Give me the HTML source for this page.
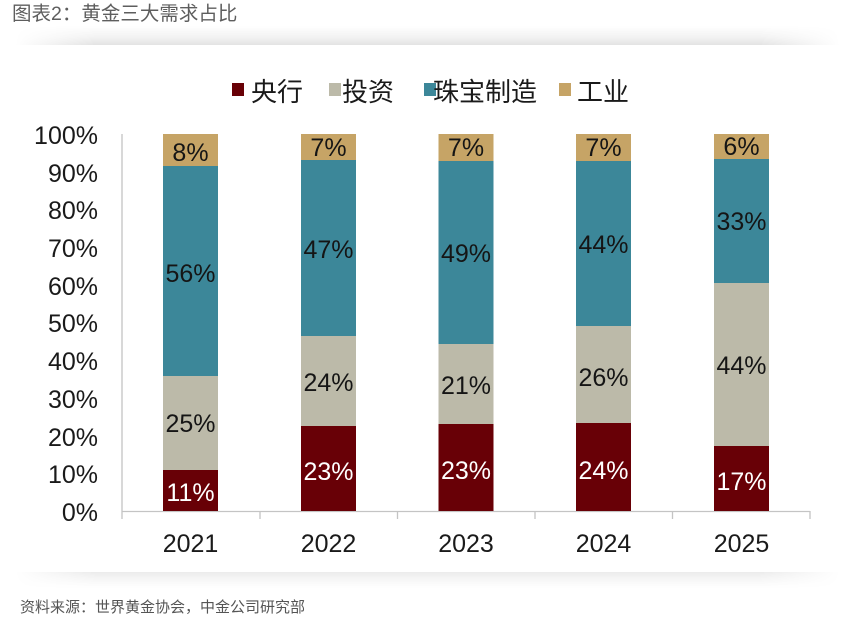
<!DOCTYPE html>
<html>
<head>
<meta charset="utf-8">
<style>
  html, body { margin:0; padding:0; background:#fff; }
  body { width:866px; height:619px; position:relative; overflow:hidden;
         font-family:"Liberation Sans","Noto Sans CJK SC",sans-serif; }
  .title { position:absolute; left:12px; top:0px; font-size:19.5px; color:#5e5e5e;
           font-family:"Liberation Sans","Noto Sans CJK SC",sans-serif; line-height:28px; }
  .shtop { position:absolute; left:15px; width:825px; top:26px; height:19px;
           background:linear-gradient(to bottom, rgba(0,0,0,0) 0%, rgba(0,0,0,0.05) 60%, rgba(0,0,0,0.11) 100%);
           -webkit-mask-image:linear-gradient(to right, transparent 0%, #000 10%, #000 90%, transparent 100%);
           mask-image:linear-gradient(to right, transparent 0%, #000 10%, #000 90%, transparent 100%); }
  .shbot { position:absolute; left:15px; width:825px; top:572px; height:16px;
           background:linear-gradient(to top, rgba(0,0,0,0) 0%, rgba(0,0,0,0.04) 60%, rgba(0,0,0,0.08) 100%);
           -webkit-mask-image:linear-gradient(to right, transparent 0%, #000 10%, #000 90%, transparent 100%);
           mask-image:linear-gradient(to right, transparent 0%, #000 10%, #000 90%, transparent 100%); }
  .src { position:absolute; left:20px; top:596px; font-size:15px; color:#555;
         font-family:"Liberation Sans","Noto Sans CJK SC",sans-serif; }
  svg { position:absolute; left:0; top:0; }
</style>
</head>
<body>
<div class="title">图表2：黄金三大需求占比</div>
<div class="shtop"></div>
<div class="shbot"></div>

<svg width="866" height="619" viewBox="0 0 866 619" xmlns="http://www.w3.org/2000/svg">
  <!-- legend -->
  <g font-family="'Liberation Sans','Noto Sans CJK SC',sans-serif" font-size="26" fill="#1a1a1a">
    <rect x="232" y="83" width="12" height="13" fill="#680006"/>
    <text x="251" y="101">央行</text>
    <rect x="329" y="83" width="12" height="13" fill="#bcbaa9"/>
    <text x="342" y="101">投资</text>
    <rect x="424" y="83" width="12" height="13" fill="#3c8799"/>
    <text x="433" y="101">珠宝制造</text>
    <rect x="559" y="83" width="12" height="13" fill="#c6a466"/>
    <text x="577" y="101">工业</text>
  </g>

  <!-- axes -->
  <g stroke="#c4c4c4" stroke-width="1.3" fill="none">
    <line x1="122" y1="134" x2="122" y2="519"/>
    <line x1="122" y1="511.5" x2="810" y2="511.5"/>
    <line x1="260" y1="511" x2="260" y2="519"/>
    <line x1="397.5" y1="511" x2="397.5" y2="519"/>
    <line x1="535" y1="511" x2="535" y2="519"/>
    <line x1="672.5" y1="511" x2="672.5" y2="519"/>
    <line x1="810" y1="511" x2="810" y2="519"/>
  </g>

  <!-- y labels -->
  <g font-family="'Liberation Sans',sans-serif" font-size="25" fill="#1a1a1a" text-anchor="end">
    <text x="98" y="144">100%</text>
    <text x="98" y="182">90%</text>
    <text x="98" y="219">80%</text>
    <text x="98" y="257">70%</text>
    <text x="98" y="295">60%</text>
    <text x="98" y="332">50%</text>
    <text x="98" y="370">40%</text>
    <text x="98" y="408">30%</text>
    <text x="98" y="446">20%</text>
    <text x="98" y="483">10%</text>
    <text x="98" y="521">0%</text>
  </g>

  <!-- bars -->
  <g>
    <!-- 2021 -->
    <rect x="163" y="470" width="55" height="41" fill="#680006"/>
    <rect x="163" y="376" width="55" height="94" fill="#bcbaa9"/>
    <rect x="163" y="166" width="55" height="210" fill="#3c8799"/>
    <rect x="163" y="134" width="55" height="32" fill="#c6a466"/>
    <!-- 2022 -->
    <rect x="301" y="426" width="55" height="85" fill="#680006"/>
    <rect x="301" y="336" width="55" height="90" fill="#bcbaa9"/>
    <rect x="301" y="160" width="55" height="176" fill="#3c8799"/>
    <rect x="301" y="134" width="55" height="26" fill="#c6a466"/>
    <!-- 2023 -->
    <rect x="438.5" y="424" width="55" height="87" fill="#680006"/>
    <rect x="438.5" y="344" width="55" height="80" fill="#bcbaa9"/>
    <rect x="438.5" y="161" width="55" height="183" fill="#3c8799"/>
    <rect x="438.5" y="134" width="55" height="27" fill="#c6a466"/>
    <!-- 2024 -->
    <rect x="576" y="423" width="55" height="88" fill="#680006"/>
    <rect x="576" y="326" width="55" height="97" fill="#bcbaa9"/>
    <rect x="576" y="161" width="55" height="165" fill="#3c8799"/>
    <rect x="576" y="134" width="55" height="27" fill="#c6a466"/>
    <!-- 2025 -->
    <rect x="714" y="446" width="55" height="65" fill="#680006"/>
    <rect x="714" y="283" width="55" height="163" fill="#bcbaa9"/>
    <rect x="714" y="159" width="55" height="124" fill="#3c8799"/>
    <rect x="714" y="134" width="55" height="25" fill="#c6a466"/>
  </g>

  <!-- data labels -->
  <g font-family="'Liberation Sans',sans-serif" font-size="25" text-anchor="middle" fill="#151515">
    <text x="190.5" y="161">8%</text>
    <text x="190.5" y="282">56%</text>
    <text x="190.5" y="432">25%</text>
    <text x="190.5" y="501" fill="#fff">11%</text>

    <text x="328.5" y="156">7%</text>
    <text x="328.5" y="258">47%</text>
    <text x="328.5" y="391">24%</text>
    <text x="328.5" y="480" fill="#fff">23%</text>

    <text x="466" y="156">7%</text>
    <text x="466" y="262">49%</text>
    <text x="466" y="394">21%</text>
    <text x="466" y="479" fill="#fff">23%</text>

    <text x="603.5" y="156">7%</text>
    <text x="603.5" y="253">44%</text>
    <text x="603.5" y="386">26%</text>
    <text x="603.5" y="479" fill="#fff">24%</text>

    <text x="741.5" y="155">6%</text>
    <text x="741.5" y="230">33%</text>
    <text x="741.5" y="374">44%</text>
    <text x="741.5" y="490" fill="#fff">17%</text>
  </g>

  <!-- x labels -->
  <g font-family="'Liberation Sans',sans-serif" font-size="25" text-anchor="middle" fill="#1a1a1a">
    <text x="190.5" y="552">2021</text>
    <text x="328.5" y="552">2022</text>
    <text x="466" y="552">2023</text>
    <text x="603.5" y="552">2024</text>
    <text x="741.5" y="552">2025</text>
  </g>
</svg>

<div class="src">资料来源：世界黄金协会，中金公司研究部</div>
</body>
</html>
